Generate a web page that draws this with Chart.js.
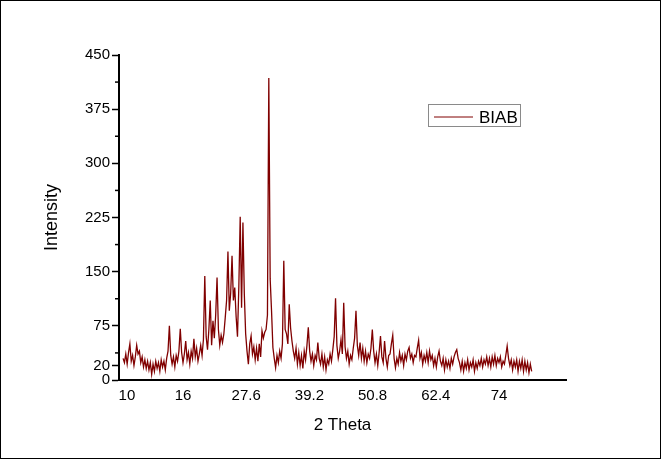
<!DOCTYPE html>
<html><head><meta charset="utf-8">
<script src="https://cdn.jsdelivr.net/npm/chart.js@4.4.1/dist/chart.umd.min.js"></script>
<style>html,body{margin:0;padding:0;background:#fff;}canvas{display:block;}</style>
</head><body>
<canvas id="c" width="661" height="459"></canvas>
<script>
const seriesLabel = 'BIAB';
const twoTheta = [
 5,5.25,5.5,5.75,6,6.25,6.5,6.75,7,7.25,7.5,7.75,8,8.25,8.5,8.75,9,9.25,9.5,9.75,
 10,10.25,10.5,10.75,11,11.25,11.5,11.75,12,12.25,12.5,12.75,13,13.25,13.5,13.75,14,14.25,14.5,14.75,
 15,15.25,15.5,15.75,16,16.25,16.5,16.75,17,17.25,17.5,17.75,18,18.25,18.5,18.75,19,19.25,19.5,19.75,
 20,20.25,20.5,20.75,21,21.25,21.5,21.75,22,22.25,22.5,22.75,23,23.25,23.5,23.75,24,24.25,24.5,24.75,
 25,25.25,25.5,25.75,26,26.25,26.5,26.75,27,27.25,27.5,27.75,28,28.25,28.5,28.75,29,29.25,29.5,29.75,
 30,30.25,30.5,30.75,31,31.25,31.5,31.75,32,32.25,32.5,32.75,33,33.25,33.5,33.75,34,34.25,34.5,34.75,
 35,35.25,35.5,35.75,36,36.25,36.5,36.75,37,37.25,37.5,37.75,38,38.25,38.5,38.75,39,39.25,39.5,39.75,
 40,40.25,40.5,40.75,41,41.25,41.5,41.75,42,42.25,42.5,42.75,43,43.25,43.5,43.75,44,44.25,44.5,44.75,
 45,45.25,45.5,45.75,46,46.25,46.5,46.75,47,47.25,47.5,47.75,48,48.25,48.5,48.75,49,49.25,49.5,49.75,
 50,50.25,50.5,50.75,51,51.25,51.5,51.75,52,52.25,52.5,52.75,53,53.25,53.5,53.75,54,54.25,54.5,54.75,
 55,55.25,55.5,55.75,56,56.25,56.5,56.75,57,57.25,57.5,57.75,58,58.25,58.5,58.75,59,59.25,59.5,59.75,
 60,60.25,60.5,60.75,61,61.25,61.5,61.75,62,62.25,62.5,62.75,63,63.25,63.5,63.75,64,64.25,64.5,64.75,
 65,65.25,65.5,65.75,66,66.25,66.5,66.75,67,67.25,67.5,67.75,68,68.25,68.5,68.75,69,69.25,69.5,69.75,
 70,70.25,70.5,70.75,71,71.25,71.5,71.75,72,72.25,72.5,72.75,73,73.25,73.5,73.75,74,74.25,74.5,74.75,
 75,75.25,75.5,75.75,76,76.25,76.5,76.75,77,77.25,77.5,77.75,78,78.25,78.5,78.75,79,79.25,79.5,79.75,
 80
];
const intensity = [
 30,24,36,22,38,50,26,34,20,32,48,36,40,24,32,18,28,16,26,14,
 24,8,22,12,26,16,24,12,28,18,26,14,30,40,75,34,22,32,18,34,
 26,40,71,38,24,36,54,28,38,22,40,30,57,32,44,26,36,48,34,56,
 144,60,42,70,110,48,82,58,90,142,70,48,62,52,64,86,110,178,96,120,
 172,110,128,88,60,130,226,100,218,120,64,40,22,50,61,36,46,28,44,26,
 50,32,68,58,66,70,90,418,140,96,45,30,17,34,24,40,30,50,165,70,
 64,50,105,72,54,40,30,44,22,38,20,34,16,40,28,48,73,40,26,36,
 20,34,28,52,30,22,36,18,32,14,28,22,36,26,42,60,113,48,30,40,
 56,36,107,46,30,40,22,34,28,44,58,96,48,34,52,30,44,26,40,24,
 36,30,44,70,40,24,36,20,38,61,32,24,54,30,18,34,36,50,62,30,
 17,30,22,38,26,34,20,36,28,40,45,30,36,24,34,32,44,55,30,38,
 22,34,26,38,24,40,28,34,20,30,18,32,40,26,20,30,14,28,18,26,
 16,30,22,32,38,42,30,24,14,26,12,24,16,28,14,24,18,28,12,24,
 16,26,20,30,18,28,22,32,20,30,18,32,22,34,20,30,24,32,18,26,
 22,34,47,30,20,28,14,26,18,28,12,26,16,28,12,26,14,24,10,22,
 12
];
const xTickValues = [5.7, 16, 27.6, 39.2, 50.8, 62.4, 74];
const xTickLabels = ['10', '16', '27.6', '39.2', '50.8', '62.4', '74'];
const yTickValues = [0, 20, 75, 150, 225, 300, 375, 450];
const yTickLabels = ['0', '20', '75', '150', '225', '300', '375', '450'];
const yMinorTicks = [37.5, 112.5, 187.5, 262.5, 337.5, 412.5];
const xTitle = '2 Theta';
const yTitle = 'Intensity';

const lineColor = '#800000';
const FONT = "'Liberation Sans', Arial, sans-serif";

const decor = {
  id: 'decor',
  beforeDraw(chart) {
    const ctx = chart.ctx;
    ctx.save();
    ctx.fillStyle = '#fff';
    ctx.fillRect(0, 0, chart.width, chart.height);
    ctx.restore();
  },
  afterDraw(chart) {
    const ctx = chart.ctx, ys = chart.scales.y, ca = chart.chartArea;
    ctx.save();
    // minor ticks
    ctx.strokeStyle = '#000';
    ctx.lineWidth = 1.5;
    yMinorTicks.forEach(v => {
      const p = ys.getPixelForValue(v);
      ctx.beginPath();
      ctx.moveTo(ca.left - 4, p);
      ctx.lineTo(ca.left, p);
      ctx.stroke();
    });
    // legend
    const ds = chart.data.datasets[0];
    ctx.strokeStyle = '#8a8a8a';
    ctx.lineWidth = 1;
    ctx.strokeRect(428.5, 104.5, 92, 22);
    ctx.strokeStyle = ds.borderColor;
    ctx.lineWidth = 1;
    ctx.beginPath();
    ctx.moveTo(434, 117);
    ctx.lineTo(473, 117);
    ctx.stroke();
    ctx.fillStyle = '#000';
    ctx.font = '17px ' + FONT;
    ctx.textBaseline = 'middle';
    ctx.textAlign = 'left';
    ctx.fillText(ds.label, 479, 118);
    // outer frame
    ctx.strokeStyle = '#000';
    ctx.lineWidth = 1;
    ctx.strokeRect(0.5, 0.5, chart.width - 1, chart.height - 1);
    ctx.restore();
  }
};

new Chart(document.getElementById('c'), {
  type: 'line',
  data: {
    datasets: [{
      label: seriesLabel,
      data: twoTheta.map((t, i) => ({x: t, y: intensity[i]})),
      borderColor: lineColor,
      borderWidth: 1.3,
      pointRadius: 0,
      tension: 0,
      fill: false
    }]
  },
  options: {
    responsive: false,
    animation: false,
    devicePixelRatio: 1,
    layout: {padding: {top: 55, right: 95, bottom: 0, left: 0}},
    plugins: {legend: {display: false}, tooltip: {enabled: false}},
    scales: {
      x: {
        type: 'linear',
        min: 4.253, max: 86.3,
        afterBuildTicks: s => { s.ticks = xTickValues.map(v => ({value: v})); },
        afterFit: s => { s.height = 79; },
        grid: {display: false},
        border: {display: true, color: '#000', width: 2},
        ticks: {
          autoSkip: false, maxRotation: 0, padding: 0,
          color: '#000',
          font: {family: FONT, size: 15, lineHeight: 1},
          callback: (v, i) => xTickLabels[i]
        },
        title: {display: true, text: xTitle, color: '#000',
          font: {family: FONT, size: 17}, padding: {top: 0, bottom: 23.8}}
      },
      y: {
        type: 'linear',
        min: 0, max: 450,
        afterBuildTicks: s => { s.ticks = yTickValues.map(v => ({value: v})); },
        afterFit: s => { s.width = 119; },
        grid: {display: true, drawOnChartArea: false, drawTicks: true, tickLength: 7,
          tickColor: '#000', tickWidth: 1.5},
        border: {display: true, color: '#000', width: 2},
        ticks: {
          autoSkip: false, padding: 2, color: '#000',
          font: {family: FONT, size: 15},
          callback: (v, i) => yTickLabels[i]
        },
        title: {display: true, text: yTitle, color: '#000',
          font: {family: FONT, size: 18}, padding: {top: 41.5, bottom: 0}}
      }
    }
  },
  plugins: [decor]
});
</script>
</body></html>
